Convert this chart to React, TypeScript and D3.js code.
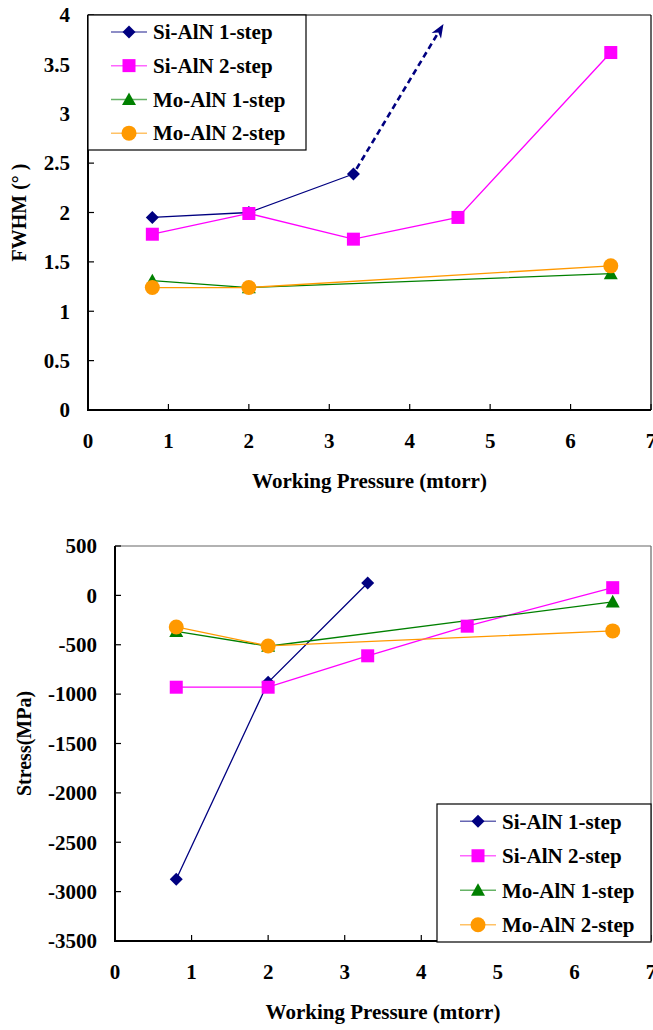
import React from "react";
import * as d3 from "d3";

const seriesNames = ["Si-AlN 1-step", "Si-AlN 2-step", "Mo-AlN 1-step", "Mo-AlN 2-step"];
const seriesColors = ["#000080", "#FF00FF", "#008000", "#FF9900"];
const seriesShapes = ["diamond", "square", "triangle", "circle"];

// FWHM chart
const fwhmSi1x = [0.8, 2, 3.3];
const fwhmSi1y = [1.95, 2.0, 2.39];
const fwhmSi2x = [0.8, 2, 3.3, 4.6, 6.5];
const fwhmSi2y = [1.78, 1.99, 1.73, 1.95, 3.62];
const fwhmMo1x = [0.8, 2, 6.5];
const fwhmMo1y = [1.31, 1.24, 1.38];
const fwhmMo2x = [0.8, 2, 6.5];
const fwhmMo2y = [1.24, 1.24, 1.46];
const fwhmArrowX = [3.3, 4.42];
const fwhmArrowY = [2.39, 3.91];
const fwhmYTicks = [0, 0.5, 1, 1.5, 2, 2.5, 3, 3.5, 4];
const fwhmYTickLabels = ["0", "0.5", "1", "1.5", "2", "2.5", "3", "3.5", "4"];

// Stress chart
const stressSi1x = [0.8, 2, 3.3];
const stressSi1y = [-2875, -880, 125];
const stressSi2x = [0.8, 2, 3.3, 4.6, 6.5];
const stressSi2y = [-930, -930, -612, -312, 78];
const stressMo1x = [0.8, 2, 6.5];
const stressMo1y = [-365, -515, -65];
const stressMo2x = [0.8, 2, 6.5];
const stressMo2y = [-320, -512, -360];
const stressYTicks = [500, 0, -500, -1000, -1500, -2000, -2500, -3000, -3500];

const xTicks = [0, 1, 2, 3, 4, 5, 6, 7];

const FONT = "Liberation Serif";

function Marker({ shape, x, y, color }: { shape: string; x: number; y: number; color: string }) {
  if (shape === "diamond") {
    const r = 6.5;
    return <path d={`M${x},${y - r}L${x + r},${y}L${x},${y + r}L${x - r},${y}Z`} fill={color} />;
  }
  if (shape === "square") {
    const r = 6.5;
    return <rect x={x - r} y={y - r} width={2 * r} height={2 * r} fill={color} />;
  }
  if (shape === "triangle") {
    const r = 7;
    return <path d={`M${x},${y - r}L${x + r},${y + r * 0.8}L${x - r},${y + r * 0.8}Z`} fill={color} />;
  }
  return <circle cx={x} cy={y} r={7.5} fill={color} />;
}

type PanelProps = {
  left: number; right: number; top: number; bottom: number;
  yDomain: [number, number];
  yTicks: number[]; yTickLabels: string[];
  series: { xs: number[]; ys: number[] }[];
  yLabel: string; yLabelX: number;
  xLabelY: number; xTickY: number;
  legend: { x: number; y: number; w: number; h: number };
  frameColor: string;
  arrow?: { xs: number[]; ys: number[] };
};

function Panel(p: PanelProps) {
  const x = d3.scaleLinear().domain([0, 7]).range([p.left, p.right]);
  const y = d3.scaleLinear().domain(p.yDomain).range([p.bottom, p.top]);
  const line = d3.line<[number, number]>().x(d => x(d[0])).y(d => y(d[1]));
  const rowH = p.legend.h / 4;
  return (
    <g>
      {/* frame */}
      <line x1={p.left} x2={p.right} y1={p.top} y2={p.top} stroke={p.frameColor} strokeWidth={1.2} />
      <line x1={p.right} x2={p.right} y1={p.top} y2={p.bottom} stroke={p.frameColor} strokeWidth={1.2} />
      <line x1={p.left} x2={p.left} y1={p.top} y2={p.bottom + 1} stroke="#000" strokeWidth={2} />
      <line x1={p.left} x2={p.right} y1={p.bottom} y2={p.bottom} stroke="#000" strokeWidth={2} />
      {/* ticks */}
      {xTicks.map(t => (
        <g key={"xt" + t}>
          <line x1={x(t)} x2={x(t)} y1={p.bottom} y2={p.bottom - 6} stroke="#000" strokeWidth={1.2} />
          <text x={x(t)} y={p.xTickY} textAnchor="middle" fontFamily={FONT} fontWeight="bold" fontSize={21}>{t}</text>
        </g>
      ))}
      {p.yTicks.map((t, i) => (
        <g key={"yt" + t}>
          <line x1={p.left} x2={p.left + 6} y1={y(t)} y2={y(t)} stroke="#000" strokeWidth={1.2} />
          <text x={p.left - 18} y={y(t)} dy="0.35em" textAnchor="end" fontFamily={FONT} fontWeight="bold" fontSize={21}>{p.yTickLabels[i]}</text>
        </g>
      ))}
      {/* lines */}
      {p.series.map((s, i) => (
        <path key={"l" + i} d={line(s.xs.map((v, j) => [v, s.ys[j]]) as [number, number][]) || ""} fill="none" stroke={seriesColors[i]} strokeWidth={1.3} />
      ))}
      {p.arrow && (() => {
        const x0 = x(p.arrow.xs[0]), y0 = y(p.arrow.ys[0]);
        const x1 = x(p.arrow.xs[1]), y1 = y(p.arrow.ys[1]);
        const ang = Math.atan2(y1 - y0, x1 - x0);
        const L = 14, W = 5.5;
        const bx = x1 - L * Math.cos(ang), by = y1 - L * Math.sin(ang);
        const px = -Math.sin(ang) * W, py = Math.cos(ang) * W;
        const start = 6;
        return (
          <g>
            <line x1={x0 + start * Math.cos(ang)} y1={y0 + start * Math.sin(ang)} x2={bx + 3 * Math.cos(ang)} y2={by + 3 * Math.sin(ang)} stroke="#000080" strokeWidth={2.6} strokeDasharray="6,4" />
            <path d={`M${x1},${y1}L${bx + px},${by + py}L${bx + 4 * Math.cos(ang)},${by + 4 * Math.sin(ang)}L${bx - px},${by - py}Z`} fill="#000080" />
          </g>
        );
      })()}
      {/* markers */}
      {p.series.map((s, i) => (
        <g key={"m" + i}>
          {s.xs.map((v, j) => (
            <Marker key={j} shape={seriesShapes[i]} x={x(v)} y={y(s.ys[j])} color={seriesColors[i]} />
          ))}
        </g>
      ))}
      {/* legend */}
      <rect x={p.legend.x} y={p.legend.y} width={p.legend.w} height={p.legend.h} fill="#fff" stroke="#000" strokeWidth={1.2} />
      {seriesNames.map((n, i) => {
        const cy = p.legend.y + rowH * (i + 0.5);
        const lx = p.legend.x + 23;
        return (
          <g key={"lg" + i}>
            <line x1={lx} x2={lx + 36} y1={cy} y2={cy} stroke={seriesColors[i]} strokeOpacity={0.6} strokeWidth={1.5} />
            <Marker shape={seriesShapes[i]} x={lx + 18} y={cy} color={seriesColors[i]} />
            <text x={lx + 42} y={cy} dy="0.35em" fontFamily={FONT} fontWeight="bold" fontSize={21}>{n}</text>
          </g>
        );
      })}
      {/* axis labels */}
      <text x={(p.left + p.right) / 2} y={p.xLabelY} textAnchor="middle" fontFamily={FONT} fontWeight="bold" fontSize={21}>Working Pressure (mtorr)</text>
      <text transform={`translate(${p.yLabelX},${(p.top + p.bottom) / 2}) rotate(-90)`} textAnchor="middle" fontFamily={FONT} fontWeight="bold" fontSize={20}>{p.yLabel}</text>
    </g>
  );
}

export default function App() {
  return (
    <svg width={653} height={1030} style={{ position: "absolute", left: 0, top: 0, background: "#fff" }}>
      <rect width={653} height={1030} fill="#fff" />
      <Panel
        left={88} right={651} top={15} bottom={410}
        yDomain={[0, 4]}
        yTicks={fwhmYTicks} yTickLabels={fwhmYTickLabels}
        series={[
          { xs: fwhmSi1x, ys: fwhmSi1y },
          { xs: fwhmSi2x, ys: fwhmSi2y },
          { xs: fwhmMo1x, ys: fwhmMo1y },
          { xs: fwhmMo2x, ys: fwhmMo2y },
        ]}
        arrow={{ xs: fwhmArrowX, ys: fwhmArrowY }}
        yLabel="FWHM (° )" yLabelX={26}
        xLabelY={488} xTickY={448}
        legend={{ x: 88, y: 15, w: 218, h: 135 }}
        frameColor="#000"
      />
      <Panel
        left={115} right={651} top={546} bottom={941}
        yDomain={[-3500, 500]}
        yTicks={stressYTicks} yTickLabels={stressYTicks.map(String)}
        series={[
          { xs: stressSi1x, ys: stressSi1y },
          { xs: stressSi2x, ys: stressSi2y },
          { xs: stressMo1x, ys: stressMo1y },
          { xs: stressMo2x, ys: stressMo2y },
        ]}
        yLabel="Stress(MPa)" yLabelX={31}
        xLabelY={1019} xTickY={979}
        legend={{ x: 437, y: 804, w: 214, h: 138 }}
        frameColor="#666"
      />
    </svg>
  );
}
